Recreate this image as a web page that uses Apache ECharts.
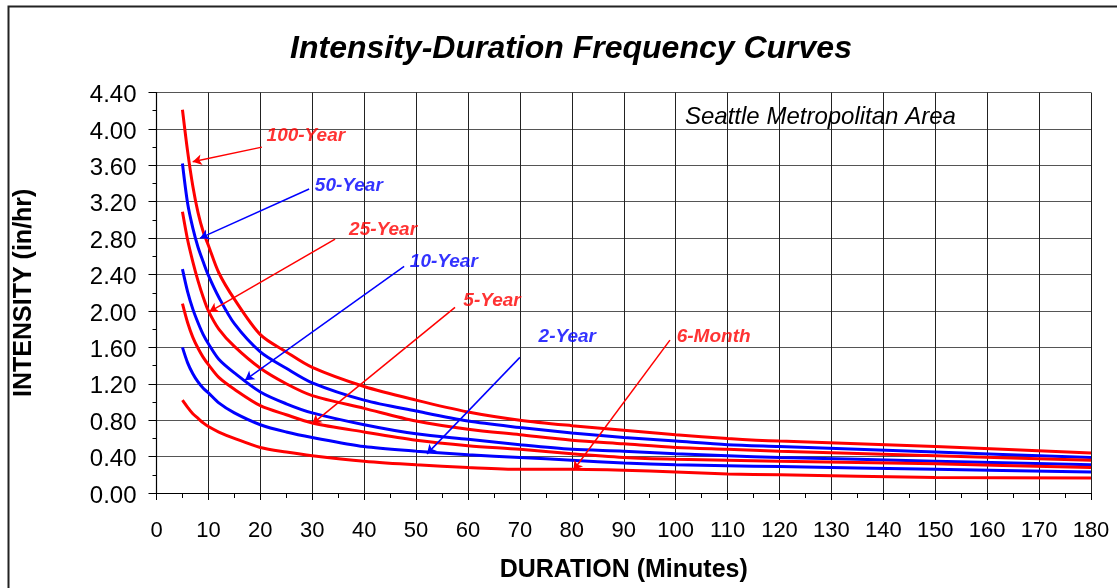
<!DOCTYPE html>
<html>
<head>
<meta charset="utf-8">
<script src="https://cdn.jsdelivr.net/npm/echarts@6/dist/echarts.min.js"></script>
<style>html,body{margin:0;padding:0;background:#fff;}#c{width:1117px;height:588px;}</style>
</head>
<body>
<div id="c"></div>
<script>
const durations = [5,6,7,8,9,10,12,15,20,25,30,40,50,60,70,80,90,100,110,120,150,180];
const y100 = [4.21,3.75,3.37,3.08,2.87,2.72,2.42,2.13,1.74,1.55,1.38,1.17,1.02,0.89,0.80,0.74,0.69,0.64,0.60,0.57,0.51,0.44];
const y50  = [3.62,3.18,2.91,2.70,2.54,2.39,2.15,1.86,1.55,1.37,1.21,1.02,0.90,0.79,0.72,0.66,0.61,0.57,0.53,0.51,0.45,0.39];
const y25  = [3.09,2.78,2.54,2.33,2.15,2.00,1.80,1.61,1.37,1.20,1.07,0.93,0.79,0.70,0.64,0.58,0.54,0.50,0.48,0.46,0.41,0.36];
const y10  = [2.46,2.21,2.02,1.87,1.74,1.64,1.47,1.32,1.11,0.98,0.88,0.75,0.65,0.59,0.53,0.48,0.46,0.43,0.41,0.39,0.35,0.31];
const y5   = [2.08,1.87,1.71,1.59,1.49,1.41,1.27,1.14,0.96,0.86,0.77,0.67,0.58,0.52,0.48,0.43,0.39,0.37,0.36,0.35,0.32,0.28];
const y2   = [1.60,1.43,1.31,1.22,1.15,1.10,0.99,0.88,0.75,0.67,0.61,0.51,0.46,0.42,0.39,0.36,0.33,0.31,0.30,0.29,0.26,0.23];
const y6m  = [1.02,0.94,0.87,0.82,0.77,0.73,0.67,0.60,0.50,0.45,0.41,0.35,0.31,0.28,0.26,0.26,0.25,0.23,0.21,0.20,0.17,0.165];

const seriesNames = ['100-Year','50-Year','25-Year','10-Year','5-Year','2-Year','6-Month'];
const seriesValues = [y100,y50,y25,y10,y5,y2,y6m];
const seriesColors = ['#FF0000','#0000FF','#FF0000','#0000FF','#FF0000','#0000FF','#FF0000'];

// annotation label anchors and arrow lines (data coordinates: minutes, in/hr)
const labelAt   = [[21.2,3.92],[30.5,3.37],[37.1,2.89],[48.8,2.54],[59.1,2.11],[73.6,1.72],[100.2,1.72]];
const arrowFrom = [[20.3,3.80],[29.4,3.34],[34.4,2.79],[47.7,2.49],[57.5,2.04],[70.0,1.49],[98.9,1.68]];
const arrowTo   = [[6.97,3.64],[8.38,2.80],[10.17,1.99],[17.05,1.24],[30.0,0.76],[52.1,0.43],[80.3,0.25]];

const FONT = "'Liberation Sans', Arial, Helvetica, sans-serif";
const chart = echarts.init(document.getElementById('c'));

const series = [];
seriesNames.forEach((name, i) => {
  series.push({
    name: name,
    type: 'line',
    data: durations.map((d, j) => [d, seriesValues[i][j]]),
    showSymbol: false,
    smooth: 0.3,
    lineStyle: { color: seriesColors[i], width: 3 },
    itemStyle: { color: seriesColors[i] },
    z: 3,
    silent: true,
    animation: false,
    markLine: {
      silent: true,
      animation: false,
      symbol: ['none', 'arrow'],
      symbolSize: [8, 9],
      label: { show: false },
      lineStyle: { color: seriesColors[i], width: 1.5, type: 'solid' },
      data: [[{ coord: arrowFrom[i] }, { coord: arrowTo[i] }]]
    }
  });
  series.push({
    type: 'scatter',
    data: [{ value: labelAt[i], name: name }],
    symbolSize: 0,
    silent: true,
    animation: false,
    z: 5,
    label: {
      show: true,
      position: 'right',
      distance: 0,
      formatter: '{b}',
      color: seriesColors[i],
      fontFamily: FONT,
      fontWeight: 'bold',
      fontStyle: 'italic',
      fontSize: 19
    }
  });
});

chart.setOption({
  backgroundColor: '#fff',
  animation: false,
  title: [
    {
      text: 'Intensity-Duration Frequency Curves',
      left: 566, top: 44, textAlign: 'center', textVerticalAlign: 'middle',
      textStyle: { fontFamily: FONT, fontWeight: 'bold', fontStyle: 'italic', fontSize: 32, color: '#000' }
    },
    {
      text: 'Seattle Metropolitan Area',
      left: 680, top: 112, textVerticalAlign: 'middle',
      textStyle: { fontFamily: FONT, fontWeight: 'normal', fontStyle: 'italic', fontSize: 24, color: '#000' }
    }
  ],
  grid: { left: 156.5, right: 26, top: 92.5, bottom: 95, containLabel: false, outerBoundsMode: 'none' },
  xAxis: {
    type: 'value', min: 0, max: 180, interval: 10,
    name: 'DURATION (Minutes)', nameLocation: 'middle', nameGap: 65,
    nameTextStyle: { fontFamily: FONT, fontWeight: 'bold', fontSize: 25, color: '#000' },
    axisLine: { show: true, lineStyle: { color: '#000', width: 1.2 } },
    axisTick: { show: true, inside: false, length: 7, lineStyle: { color: '#000', width: 1 } },
    minorTick: { show: true, splitNumber: 2, length: 5, lineStyle: { color: '#000', width: 1 } },
    axisLabel: { fontFamily: FONT, fontSize: 22, color: '#000', margin: 27 },
    splitLine: { show: true, lineStyle: { color: '#222', width: 1 } }
  },
  yAxis: {
    type: 'value', min: 0, max: 4.4, interval: 0.4,
    name: 'INTENSITY (in/hr)', nameLocation: 'middle', nameGap: 120, nameRotate: 90,
    nameTextStyle: { fontFamily: FONT, fontWeight: 'bold', fontSize: 25, color: '#000' },
    axisLine: { show: true, lineStyle: { color: '#000', width: 1.2 } },
    axisTick: { show: true, inside: false, length: 8, lineStyle: { color: '#000', width: 1 } },
    minorTick: { show: true, splitNumber: 2, length: 4, lineStyle: { color: '#000', width: 1 } },
    axisLabel: { fontFamily: FONT, fontSize: 24, color: '#000', margin: 20, verticalAlign: 'top', lineHeight: 24, padding: [-9, 0, 0, 0], formatter: v => v.toFixed(2) },
    splitLine: { show: true, lineStyle: { color: '#555', width: 1.2 } }
  },
  graphic: [
    { type: 'rect', silent: true, z: -1,
      shape: { x: 8.5, y: 6.5, width: 1130, height: 610 },
      style: { fill: 'none', stroke: '#222', lineWidth: 2 } }
  ],
  series: series
});
</script>
</body>
</html>
